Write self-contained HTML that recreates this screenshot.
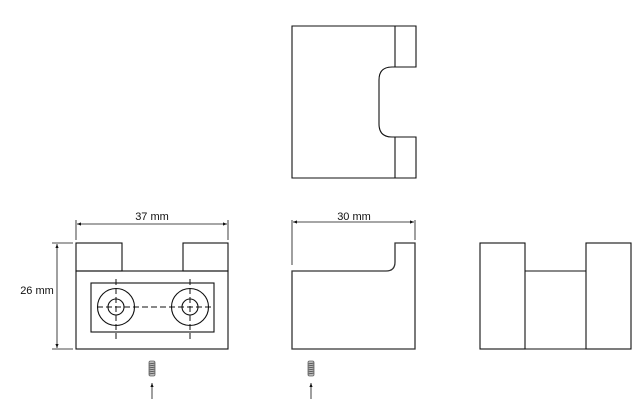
<!DOCTYPE html>
<html><head><style>body{margin:0;background:#fff}svg{display:block}text{font-family:"Liberation Sans",sans-serif;font-size:11px;fill:#111}</style></head><body>
<svg width="644" height="415" viewBox="0 0 644 415" xmlns="http://www.w3.org/2000/svg">
<defs>
<marker id="a" markerWidth="6" markerHeight="6" refX="5" refY="3" orient="auto-start-reverse"><path d="M0,1 L5,3 L0,5 z" fill="#111"/></marker>
<g id="scr"><rect x="-3" y="0" width="6" height="15" rx="1.5" fill="#bbb" stroke="#666" stroke-width="0.8"/><path d="M-3,3 L3,2 M-3,5 L3,4 M-3,7 L3,6 M-3,9 L3,8 M-3,11 L3,10 M-3,13 L3,12" stroke="#444" stroke-width="0.8"/></g>
</defs>
<g fill="none" stroke="#111" stroke-width="1.1">
<path d="M292,26 H416 V67 H392 Q379,67 379,80 V124 Q379,137 392,137 H416 V178 H292 Z"/>
<path d="M395,26 V67 M395,137 V178"/>
<rect x="76" y="243" width="46" height="28"/>
<rect x="183" y="243" width="45" height="28"/>
<rect x="76" y="271" width="152" height="78"/>
<rect x="91" y="283" width="123" height="49"/>
<circle cx="116" cy="307" r="18.5"/><circle cx="116" cy="307" r="8"/>
<circle cx="190" cy="307" r="18.5"/><circle cx="190" cy="307" r="8"/>
<path d="M97,307 H214 M116,279 V340 M190,279 V340" stroke-dasharray="6,3" stroke-width="1"/>
<path d="M292,271 H386 Q395,271 395,262 V243 H415 V349 H292 Z" stroke="#333" stroke-width="1.3"/>
<rect x="480" y="243" width="45" height="106"/>
<rect x="586" y="243" width="45" height="106"/>
<path d="M525,271 H586 M525,349 H586"/>
</g>
<g stroke="#111" stroke-width="0.8" fill="none">
<path d="M76,220 V240 M228,220 V240"/>
<path d="M77,224 H227" marker-start="url(#a)" marker-end="url(#a)"/>
<path d="M292,220 V265 M415,220 V240"/>
<path d="M293,222 H414" marker-start="url(#a)" marker-end="url(#a)"/>
<path d="M52,243 H73 M52,349 H73"/>
<path d="M57,244 V348" marker-start="url(#a)" marker-end="url(#a)"/>
<path d="M152,399 V383" marker-end="url(#a)"/>
<path d="M311,399 V383" marker-end="url(#a)"/>
</g>
<use href="#scr" x="152" y="361"/>
<use href="#scr" x="311" y="361"/>
<text x="152" y="220" text-anchor="middle">37 mm</text>
<text x="354" y="220" text-anchor="middle">30 mm</text>
<text x="37" y="294" text-anchor="middle">26 mm</text>
</svg>
</body></html>
